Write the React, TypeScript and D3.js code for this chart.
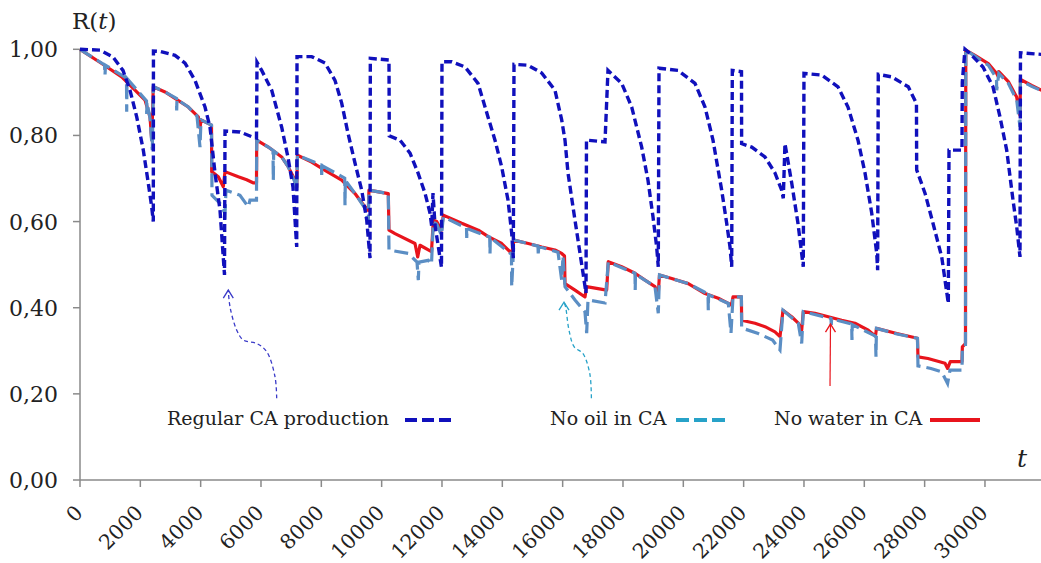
import React from 'react';
import * as d3 from 'd3';

type P = [number, number];

// Regular CA production (t, R)
const regularCA: P[] = [
  [0, 1.0], [663, 0.998], [1094, 0.982], [1425, 0.951], [1658, 0.905], [1880, 0.843], [2098, 0.766], [2264, 0.689], [2377, 0.634], [2430, 0.600],
  [2435, 0.996], [2652, 0.995], [3149, 0.986], [3481, 0.968], [3812, 0.928], [4144, 0.866], [4310, 0.819], [4475, 0.713], [4641, 0.627], [4790, 0.476],
  [4807, 0.810], [5304, 0.808], [5735, 0.796], [5851, 0.794],
  [5868, 0.970], [6023, 0.951], [6355, 0.905], [6686, 0.819], [6895, 0.749], [7061, 0.680], [7184, 0.541],
  [7194, 0.983], [7681, 0.983], [8122, 0.968], [8453, 0.928], [8675, 0.875], [8884, 0.805], [9116, 0.736], [9338, 0.673], [9504, 0.604], [9614, 0.515],
  [9624, 0.979], [10243, 0.975],
  [10253, 0.799], [10608, 0.789], [10940, 0.759], [11205, 0.713], [11437, 0.666], [11603, 0.620], [11659, 0.589],
  [11702, 0.666], [11768, 0.592], [11983, 0.494],
  [12000, 0.971], [12322, 0.971], [12763, 0.959], [13194, 0.921], [13525, 0.843], [13757, 0.789], [13979, 0.727], [14188, 0.650], [14311, 0.573], [14364, 0.515],
  [14387, 0.965], [14851, 0.963], [15305, 0.945], [15746, 0.905], [15968, 0.836], [16078, 0.789], [16177, 0.713], [16343, 0.634], [16509, 0.557], [16674, 0.481], [16774, 0.434],
  [16790, 0.789], [17404, 0.785],
  [17503, 0.951], [17957, 0.921], [18289, 0.866], [18620, 0.773], [18829, 0.696], [18995, 0.611], [19117, 0.541], [19170, 0.495],
  [19194, 0.956], [19824, 0.951], [20387, 0.921], [20719, 0.866], [20984, 0.789], [21272, 0.673], [21438, 0.596], [21548, 0.541], [21604, 0.495],
  [21624, 0.951], [21929, 0.948],
  [21933, 0.781], [22266, 0.773], [22707, 0.750], [23039, 0.713], [23261, 0.673], [23314, 0.654],
  [23370, 0.781], [23592, 0.690], [23801, 0.596], [23977, 0.495],
  [24000, 0.944], [24587, 0.940], [25128, 0.913], [25459, 0.866], [25791, 0.789], [26023, 0.713], [26245, 0.620], [26411, 0.527], [26442, 0.487],
  [26463, 0.942], [26907, 0.936], [27457, 0.913], [27729, 0.874],
  [27736, 0.720], [28012, 0.666], [28277, 0.596], [28566, 0.518], [28785, 0.410],
  [28808, 0.766], [29238, 0.766], [29248, 0.924], [29338, 1.0],
  [29504, 0.990], [29934, 0.959], [30266, 0.913], [30498, 0.843], [30720, 0.766], [30929, 0.650], [31052, 0.588], [31161, 0.518],
  [31177, 0.992], [31900, 0.988],
];

// No oil in CA (t, R)
const noOilCA: P[] = [
  [0, 1.0], [812, 0.964], [829, 0.940], [845, 0.963], [1541, 0.933], [1548, 0.855], [1558, 0.932], [2204, 0.880], [2211, 0.850], [2221, 0.877], [2321, 0.840], [2397, 0.766],
  [2430, 0.913], [2818, 0.901], [3199, 0.886], [3205, 0.858], [3215, 0.884], [3590, 0.866], [3878, 0.845], [3978, 0.773], [4011, 0.836], [4359, 0.824],
  [4376, 0.661], [4641, 0.642], [4807, 0.619],
  [4840, 0.673], [5304, 0.661], [5579, 0.634], [5636, 0.650], [5851, 0.650],
  [5858, 0.789], [6242, 0.773], [6398, 0.765], [6408, 0.696], [6421, 0.764], [6686, 0.750], [6905, 0.727], [7127, 0.691], [7184, 0.668],
  [7210, 0.754], [8006, 0.731], [8012, 0.708], [8022, 0.730], [8775, 0.701], [8785, 0.638], [8795, 0.696], [9116, 0.665], [9448, 0.631], [9557, 0.599],
  [9580, 0.673], [10220, 0.665],
  [10243, 0.534], [10883, 0.526], [11172, 0.506], [11215, 0.464], [11238, 0.506], [11546, 0.510], [11652, 0.501],
  [11712, 0.599], [11825, 0.594], [11983, 0.568],
  [12044, 0.611], [12813, 0.585], [12820, 0.562], [12830, 0.584], [13582, 0.564], [13592, 0.526], [13602, 0.563], [14304, 0.524], [14311, 0.449],
  [14387, 0.557], [15183, 0.543], [15193, 0.520], [15203, 0.542], [15846, 0.529], [15968, 0.464], [16011, 0.520],
  [16078, 0.449], [16409, 0.418], [16741, 0.390], [16796, 0.341],
  [16840, 0.418], [17404, 0.411],
  [17513, 0.506], [18398, 0.480], [18405, 0.441], [18415, 0.478], [19061, 0.449], [19170, 0.387],
  [19210, 0.476], [20165, 0.456], [20818, 0.432], [20828, 0.394], [20838, 0.430], [21492, 0.410], [21581, 0.341],
  [21647, 0.425], [21926, 0.425],
  [21933, 0.353], [22485, 0.340], [22959, 0.325], [23205, 0.302],
  [23304, 0.394], [23811, 0.364], [23924, 0.317],
  [23977, 0.391], [24895, 0.375], [24905, 0.360], [24915, 0.374], [25581, 0.362], [25591, 0.325], [25601, 0.361], [26370, 0.334], [26387, 0.286],
  [26403, 0.352], [27083, 0.339], [27762, 0.329],
  [27779, 0.265], [28210, 0.259], [28565, 0.251], [28761, 0.224], [28841, 0.255], [29238, 0.255],
  [29251, 0.302], [29354, 0.309],
  [29364, 0.998], [29669, 0.984], [30110, 0.963], [30382, 0.933], [30389, 0.905], [30459, 0.944], [30774, 0.921], [31052, 0.882], [31161, 0.820],
  [31177, 0.928], [31548, 0.914], [31900, 0.903],
];

// No water in CA (t, R)
const noWaterCA: P[] = [
  [0, 1.0], [719, 0.967], [1382, 0.936], [1823, 0.905], [2155, 0.882], [2321, 0.843], [2377, 0.789],
  [2430, 0.913], [2818, 0.901], [3149, 0.886], [3590, 0.866], [3922, 0.843], [3978, 0.817], [4011, 0.836], [4359, 0.824],
  [4366, 0.716], [4585, 0.704], [4750, 0.681],
  [4807, 0.716], [5248, 0.704], [5526, 0.697], [5735, 0.690], [5851, 0.690],
  [5858, 0.789], [6242, 0.773], [6686, 0.750], [6905, 0.727], [7127, 0.696], [7184, 0.680],
  [7210, 0.754], [7681, 0.738], [8122, 0.719], [8675, 0.696], [9116, 0.665], [9448, 0.634], [9557, 0.626],
  [9580, 0.673], [10220, 0.665],
  [10243, 0.580], [10442, 0.572], [11105, 0.549], [11195, 0.518], [11271, 0.545], [11652, 0.530],
  [11712, 0.603], [11825, 0.600], [11983, 0.580],
  [12044, 0.615], [12653, 0.596], [13204, 0.580], [13535, 0.565], [13979, 0.549], [14311, 0.526],
  [14387, 0.557], [14861, 0.549], [15305, 0.541], [15746, 0.534], [15968, 0.526], [16061, 0.520],
  [16078, 0.456], [16409, 0.441], [16741, 0.425],
  [16790, 0.449], [17459, 0.441],
  [17513, 0.507], [17957, 0.495], [18398, 0.480], [18730, 0.464], [19061, 0.449], [19170, 0.433],
  [19210, 0.476], [19615, 0.468], [20165, 0.456], [20719, 0.433], [21160, 0.422], [21492, 0.410], [21598, 0.406],
  [21647, 0.425], [21926, 0.425],
  [21933, 0.371], [22376, 0.364], [22707, 0.356], [23039, 0.344], [23205, 0.333],
  [23304, 0.394], [23592, 0.379], [23811, 0.364], [23924, 0.348],
  [23977, 0.391], [24365, 0.387], [24806, 0.379], [25249, 0.371], [25690, 0.364], [26132, 0.348], [26370, 0.334],
  [26403, 0.352], [27076, 0.340], [27762, 0.329],
  [27779, 0.286], [28111, 0.282], [28675, 0.271], [28761, 0.259], [28851, 0.275], [29238, 0.275],
  [29251, 0.309], [29354, 0.317],
  [29364, 0.998], [29669, 0.986], [30110, 0.967], [30389, 0.944], [30442, 0.936], [30459, 0.948], [30774, 0.925], [31052, 0.889], [31161, 0.847],
  [31177, 0.930], [31548, 0.916], [31900, 0.904],
];

const xTickValues = [0, 2000, 4000, 6000, 8000, 10000, 12000, 14000, 16000, 18000, 20000, 22000, 24000, 26000, 28000, 30000];
const yTickValues = [0, 0.2, 0.4, 0.6, 0.8, 1.0];
const yTickLabels = ['0,00', '0,20', '0,40', '0,60', '0,80', '1,00'];

// annotation arrows (t, R)
const arrowRegular: P[] = [[6520, 0.19], [6464, 0.24], [6189, 0.298], [5858, 0.317], [5413, 0.325], [5195, 0.348], [4973, 0.402], [4916, 0.441]];
const arrowNoOil: P[] = [[16953, 0.19], [16897, 0.248], [16668, 0.294], [16383, 0.309], [16210, 0.348], [16098, 0.402], [16045, 0.413]];
const arrowNoWater: P[] = [[24863, 0.218], [24879, 0.362]];

const BLUE = '#1010bc';
const STEEL = '#5b8ec4';
const CYAN = '#27a2c8';
const RED = '#e8141c';
const AXIS = '#8a8a8a';
const FONT = '"DejaVu Serif", serif';

export default function App() {
  const x = d3.scaleLinear().domain([0, 32000]).range([80, 1045.3]);
  const y = d3.scaleLinear().domain([0, 1]).range([480, 49.3]);
  const line = d3.line<P>().x(d => x(d[0])).y(d => y(d[1]));
  const curve = d3.line<P>().x(d => x(d[0])).y(d => y(d[1])).curve(d3.curveCatmullRom);

  const head = (p: P, color: string) => {
    const tx = x(p[0]);
    const ty = y(p[1]);
    return <path d={`M${tx - 5},${ty + 8} L${tx},${ty} L${tx + 5},${ty + 8}`} fill="none" stroke={color} strokeWidth={1.3} />;
  };

  return (
    <svg width={1041} height={563} style={{ position: 'absolute', left: 0, top: 0, background: '#fff' }} fontFamily={FONT}>
      <rect x={0} y={0} width={1041} height={563} fill="#fff" />
      {/* axes */}
      <line x1={x(0)} x2={x(0)} y1={y(1)} y2={y(0)} stroke={AXIS} strokeWidth={1.5} />
      <line x1={x(0)} x2={1041} y1={y(0)} y2={y(0)} stroke={AXIS} strokeWidth={1.5} />
      {yTickValues.map((v, i) => (
        <g key={'y' + i}>
          <line x1={x(0) - 7} x2={x(0)} y1={y(v)} y2={y(v)} stroke={AXIS} strokeWidth={1.5} />
          <text x={58} y={y(v) + 8} textAnchor="end" fontSize={22} fill="#222">{yTickLabels[i]}</text>
        </g>
      ))}
      {xTickValues.map((v, i) => (
        <g key={'x' + i}>
          <line x1={x(v)} x2={x(v)} y1={y(0)} y2={y(0) + 7} stroke={AXIS} strokeWidth={1.5} />
          <text transform={`translate(${x(v) + 4},${y(0) + 34}) rotate(-45)`} textAnchor="end" fontSize={20.5} fill="#222">{String(v)}</text>
        </g>
      ))}
      <text x={72} y={29} fontSize={23} fill="#222">R(<tspan fontStyle="italic">t</tspan>)</text>
      <text x={1017} y={467} fontSize={25} fontStyle="italic" fill="#222">t</text>

      {/* series */}
      <path d={line(noWaterCA) || ''} fill="none" stroke={RED} strokeWidth={3.2} strokeLinejoin="round" />
      <path d={line(noOilCA) || ''} fill="none" stroke={STEEL} strokeWidth={3.2} strokeDasharray="14 6" />
      <path d={line(regularCA) || ''} fill="none" stroke={BLUE} strokeWidth={3.4} strokeDasharray="8 4" />

      {/* annotation arrows */}
      <path d={curve(arrowRegular) || ''} fill="none" stroke="#3a3ac8" strokeWidth={1.3} strokeDasharray="4 3" />
      {head(arrowRegular[arrowRegular.length - 1], '#3a3ac8')}
      <path d={curve(arrowNoOil) || ''} fill="none" stroke={CYAN} strokeWidth={1.3} strokeDasharray="4 3" />
      {head(arrowNoOil[arrowNoOil.length - 1], CYAN)}
      <path d={line(arrowNoWater) || ''} fill="none" stroke={RED} strokeWidth={1.2} />
      {head(arrowNoWater[arrowNoWater.length - 1], RED)}

      {/* legend */}
      <text x={167} y={425} fontSize={19} fill="#222">Regular CA production</text>
      <line x1={405} x2={456} y1={420} y2={420} stroke={BLUE} strokeWidth={4} strokeDasharray="12 5" />
      <text x={550} y={425} fontSize={19} fill="#222">No oil in CA</text>
      <line x1={676} x2={726} y1={420} y2={420} stroke={CYAN} strokeWidth={4} strokeDasharray="13 5" />
      <text x={774} y={425} fontSize={19} fill="#222">No water in CA</text>
      <line x1={930} x2={980} y1={420} y2={420} stroke={RED} strokeWidth={4} />
    </svg>
  );
}
